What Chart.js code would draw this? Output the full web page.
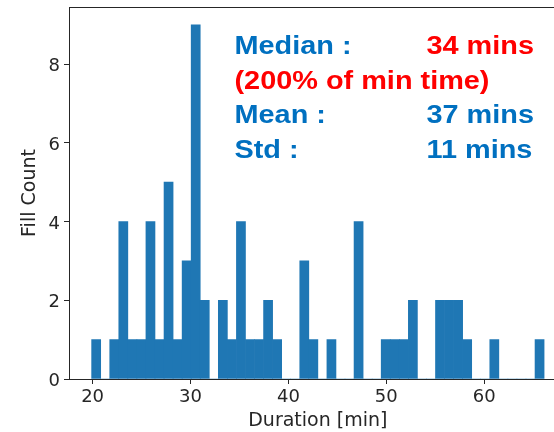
<!DOCTYPE html>
<html>
<head>
<meta charset="utf-8">
<script src="https://cdn.jsdelivr.net/npm/chart.js@4/dist/chart.umd.min.js"></script>
<style>
  html, body { margin: 0; padding: 0; background: #fff; overflow: hidden; }
  #wrap { width: 554px; height: 432px; overflow: hidden; }
</style>
</head>
<body>
<div id="wrap"><canvas id="chart" width="570" height="432"></canvas></div>
<script>
// histogram bins (50 equal bins) and counts
const binStart = 19.9;
const binWidth = 0.9244;
const fillCounts = [1, 0, 1, 4, 1, 1, 4, 1, 5, 1, 3, 9, 2, 0, 2, 1, 4, 1, 1, 2,
                    1, 0, 0, 3, 1, 0, 1, 0, 0, 4, 0, 0, 1, 1, 1, 2, 0, 0, 2, 2,
                    2, 1, 0, 0, 1, 0, 0, 0, 0, 1];
const xTicks = [20, 30, 40, 50, 60];
const yTicks = [0, 2, 4, 6, 8];

// stats box text
const statNames = ["Median :", "Mean :", "Std :"];
const statValues = ["34 mins", "37 mins", "11 mins"];
const medianNote = "(200% of min time)";

const BLUE = "#0070c0";
const RED = "#ff0000";

const binData = fillCounts.map((c, i) => ({ x: binStart + (i + 0.5) * binWidth, y: c }));

const framePlugin = {
  id: "frame",
  afterDatasetsDraw(chart) {
    const { ctx, chartArea: a } = chart;
    ctx.save();
    ctx.strokeStyle = "#262626";
    ctx.lineWidth = 1;
    ctx.strokeRect(a.left + 0.5, a.top + 0.5, a.right - a.left, a.bottom - a.top);
    ctx.restore();
  },
  afterDraw(chart) {
    const ctx = chart.ctx;
    const nameX = 234.5, valX = 426.5;
    const rows = [54, 88.7, 123.4, 158.1];
    const put = (txt, x, y, col) => {
      ctx.save();
      ctx.translate(x, y);
      ctx.scale(1.11, 1);
      ctx.fillStyle = col;
      ctx.fillText(txt, 0, 0);
      ctx.restore();
    };
    ctx.save();
    ctx.font = "bold 26px 'Liberation Sans', Arial, sans-serif";
    ctx.textBaseline = "alphabetic";
    ctx.textAlign = "left";
    put(statNames[0], nameX, rows[0], BLUE);
    put(statValues[0], valX, rows[0], RED);
    put(medianNote, nameX, rows[1], RED);
    put(statNames[1], nameX, rows[2], BLUE);
    put(statValues[1], valX, rows[2], BLUE);
    put(statNames[2], nameX, rows[3], BLUE);
    put(statValues[2], valX, rows[3], BLUE);
    ctx.restore();
  }
};

const tickFont = { family: "'DejaVu Sans', sans-serif", size: 18 };
const titleFont = { family: "'DejaVu Sans', sans-serif", size: 19 };

new Chart(document.getElementById("chart"), {
  type: "bar",
  data: {
    datasets: [{
      data: binData,
      backgroundColor: "#1f77b4",
      borderWidth: 0,
      barPercentage: 1,
      categoryPercentage: 1
    }]
  },
  options: {
    responsive: false,
    animation: false,
    layout: { padding: { top: 7, right: 3.3, left: 0, bottom: 0 } },
    plugins: { legend: { display: false }, tooltip: { enabled: false } },
    scales: {
      x: {
        type: "linear",
        min: 17.587,
        max: 68.43,
        offset: false,
        afterFit(s) { s.height = 53; s.paddingLeft = 0; s.paddingRight = 0; },
        afterBuildTicks(s) { s.ticks = xTicks.map(v => ({ value: v })); },
        border: { display: false },
        grid: { offset: false, drawOnChartArea: false, drawTicks: true, tickLength: 5, tickColor: "#262626", lineWidth: 1 },
        ticks: { font: tickFont, color: "#262626", padding: 3, maxRotation: 0, autoSkip: false },
        title: { display: true, text: "Duration [min]", font: titleFont, color: "#262626", padding: { top: 0, bottom: 0 } }
      },
      y: {
        min: 0,
        max: 9.45,
        afterFit(s) { s.width = 69; s.paddingTop = 0; s.paddingBottom = 0; },
        afterBuildTicks(s) { s.ticks = yTicks.map(v => ({ value: v })); },
        border: { display: false },
        grid: { drawOnChartArea: false, drawTicks: true, tickLength: 5, tickColor: "#262626", lineWidth: 1 },
        ticks: { font: tickFont, color: "#262626", padding: 4, labelOffset: 2.5 },
        title: { display: true, text: "Fill Count", font: titleFont, color: "#262626", padding: { top: 18.5, bottom: 0 } }
      }
    }
  },
  plugins: [framePlugin]
});
</script>
</body>
</html>
